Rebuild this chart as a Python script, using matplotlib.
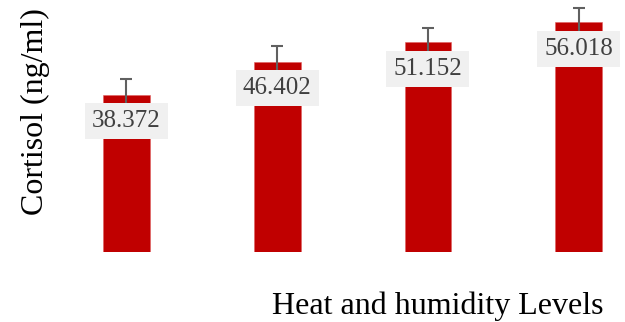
import matplotlib
matplotlib.use("Agg")
import matplotlib.pyplot as plt

levels = ["Level 1", "Level 2", "Level 3", "Level 4"]
cortisol = [38.372, 46.402, 51.152, 56.018]
errors = [3.8, 3.8, 3.5, 3.5]

plt.rcParams["font.family"] = ["Liberation Serif", "DejaVu Serif"]

fig = plt.figure(figsize=(6.25, 3.22), dpi=100)
ax = fig.add_axes([0.13, 0.2174, 0.856, 0.764])

x = list(range(len(levels)))
ax.bar(x, cortisol, width=0.31, color="#c00000", edgecolor="#e06060",
       linewidth=0.4, zorder=2)
ax.errorbar(x, cortisol, yerr=errors, fmt="none", ecolor="#606060",
            elinewidth=1.5, capsize=4.3, capthick=1.5, zorder=3)

for xi, v in zip(x, cortisol):
    ax.text(xi, v - 6.4, f"{v:.3f}", ha="center", va="center",
            fontsize=18, color="#404040", zorder=4,
            bbox=dict(boxstyle="square,pad=0.28", facecolor="#f0f0f0",
                      edgecolor="none"))

ax.set_xlim(-0.3, 3.25)
ax.set_ylim(0, 60)
ax.set_xticks([])
ax.set_yticks([])
for s in ax.spines.values():
    s.set_visible(False)

fig.text(0.056, 0.652, "Cortisol (ng/ml)", rotation=90, ha="center",
         va="center", fontsize=23, color="black")
fig.text(0.965, 0.05, "Heat and humidity Levels", ha="right",
         va="center", fontsize=23, color="black")

fig.savefig("out.png", dpi=100)
